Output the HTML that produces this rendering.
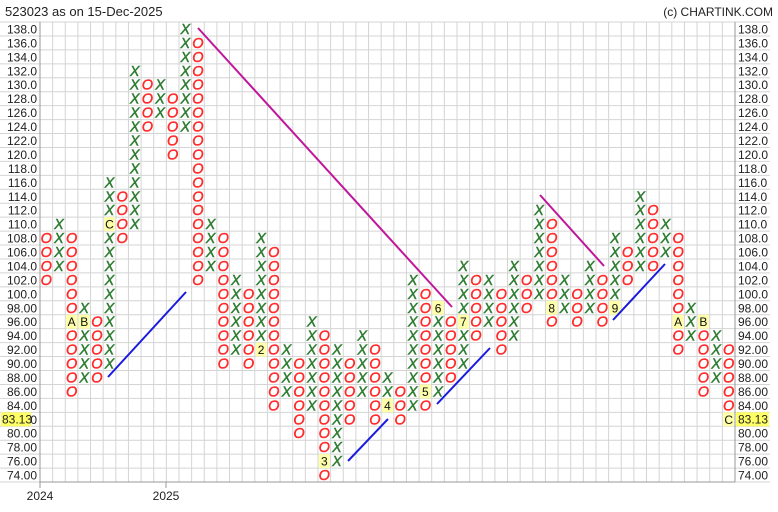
<!DOCTYPE html>
<html><head><meta charset="utf-8"><style>
html,body{margin:0;padding:0;background:#fff;width:778px;height:512px;overflow:hidden}
svg{display:block;font-family:"Liberation Sans",sans-serif}
</style></head><body>
<svg id="s" width="778" height="512" xmlns="http://www.w3.org/2000/svg"></svg>
<script>
var s=document.getElementById('s'),h='';
var L=40,R=735,T=22,RH=13.94,CW=12.636;
function yv(v){return T+(138-v)/2*RH+RH/2;}
function cx(i){return L+CW*(i+0.5);}
for(var k=0;k<=33;k++){var y=T+k*RH;h+='<line x1="0" x2="770" y1="'+y+'" y2="'+y+'" stroke="#d4d4d4"/>';}
for(var i=0;i<=55;i++){var x=L+i*CW;h+='<line x1="'+x+'" x2="'+x+'" y1="'+T+'" y2="482" stroke="#d4d4d4"/>';}
h+='<line x1="40" x2="40" y1="22" y2="488" stroke="#999"/><line x1="735" x2="735" y1="22" y2="482" stroke="#999"/><line x1="40" x2="735" y1="482" y2="482" stroke="#999"/>';
h+='<line x1="166" x2="166" y1="482" y2="488" stroke="#999"/>';
for(var v=138;v>=74;v-=2){var t=v>=100?v.toFixed(1):v.toFixed(2);var y=yv(v)+4.5;
h+='<text x="37" y="'+y+'" font-size="12" text-anchor="end" fill="#222">'+t+'</text>';
h+='<text x="738" y="'+y+'" font-size="12" fill="#222">'+t+'</text>';}
var py=yv(82)-7;
h+='<rect x="1" y="'+py+'" width="30" height="14" fill="#ffff66"/><text x="2" y="'+(py+11)+'" font-size="12" fill="#222">83.13</text>';
h+='<rect x="736" y="'+py+'" width="33" height="14" fill="#ffff66"/><text x="738" y="'+(py+11)+'" font-size="12" fill="#222">83.13</text>';
h+='<text x="5" y="16" font-size="13" fill="#222">523023 as on 15-Dec-2025</text>';
h+='<text x="773" y="16" font-size="12" text-anchor="end" fill="#222">(c) CHARTINK.COM</text>';
h+='<text x="40" y="500" font-size="12" text-anchor="middle" fill="#222">2024</text><text x="166" y="500" font-size="12" text-anchor="middle" fill="#222">2025</text>';
var C=[['O',102,108],['X',104,110],['O',86,108,{96:'A'}],['X',88,98,{96:'B'}],['O',88,96],['X',90,116,{110:'C'}],['O',108,114],['X',110,132],['O',124,130],['X',126,130],['O',120,128],['X',124,138,{122:'1'}],['O',102,136],['X',104,110],['O',90,108],['X',92,102],['O',90,100],['X',92,108,{92:'2'}],['O',84,106],['X',86,92],['O',80,90],['X',84,96],['O',74,94,{76:'3'}],['X',76,92],['O',82,90],['X',86,94],['O',82,92],['X',84,88,{84:'4'}],['O',82,86],['X',84,102],['O',84,100,{86:'5'}],['X',86,98,{98:'6'}],['O',88,96],['X',90,104,{96:'7'}],['O',94,102],['X',96,102],['O',92,100],['X',94,104],['O',98,102],['X',100,112],['O',96,110,{98:'8'}],['X',98,102],['O',96,100],['X',98,104],['O',96,102],['X',98,108,{98:'9'}],['O',102,106],['X',104,114],['O',104,112],['X',106,110],['O',92,108,{96:'A'}],['X',94,98],['O',86,96,{96:'B'}],['X',88,94],['O',82,92,{82:'C'}]];
C.forEach(function(c,i){var x=cx(i);for(var v=c[1];v<=c[2];v+=2){var y=yv(v);var m=c[3]&&c[3][v];
if(m){h+='<rect x="'+(x-5.5)+'" y="'+(y-7)+'" width="11" height="14" fill="#ffffaa"/><text x="'+x+'" y="'+(y+4.5)+'" font-size="12" text-anchor="middle" fill="#111">'+m+'</text>';}
else if(c[0]=='X'){h+='<text x="'+x+'" y="'+(y+5)+'" font-size="14.5" font-style="italic" text-anchor="middle" fill="#2e7d32" stroke="#2e7d32" stroke-width="0.45">X</text>';}
else{h+='<text x="'+x+'" y="'+(y+5)+'" font-size="14.5" font-style="italic" text-anchor="middle" fill="#ff2a2a" stroke="#ff2a2a" stroke-width="0.45">O</text>';}}});
[[108,377,186,292],[348,461,388,419],[437,404,490,348],[613,320,665,264]].forEach(function(a){h+='<line x1="'+a[0]+'" y1="'+a[1]+'" x2="'+a[2]+'" y2="'+a[3]+'" stroke="#1a1adf" stroke-width="2"/>';});
[[198,28,452,307],[540,195,604,266]].forEach(function(a){h+='<line x1="'+a[0]+'" y1="'+a[1]+'" x2="'+a[2]+'" y2="'+a[3]+'" stroke="#c0169a" stroke-width="2"/>';});
s.innerHTML=h;
</script>
</body></html>
